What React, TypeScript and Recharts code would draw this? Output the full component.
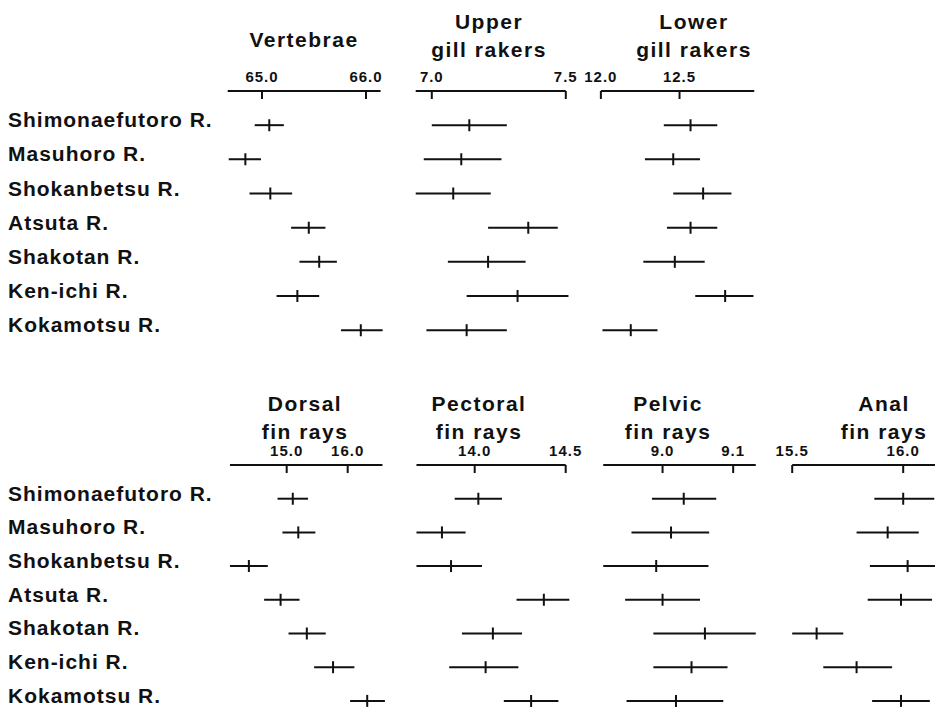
import { ScatterChart, Scatter, XAxis, YAxis, ErrorBar, ReferenceLine } from "recharts";

// each entry: [low, mean, high]
type Triple = [number, number, number];

const rivers = [
  "Shimonaefutoro R.",
  "Masuhoro R.",
  "Shokanbetsu R.",
  "Atsuta R.",
  "Shakotan R.",
  "Ken-ichi R.",
  "Kokamotsu R.",
];

const vertebrae: Triple[] = [
  [64.93, 65.07, 65.21],
  [64.68, 64.84, 64.99],
  [64.88, 65.08, 65.29],
  [65.28, 65.45, 65.61],
  [65.36, 65.55, 65.72],
  [65.14, 65.34, 65.55],
  [65.76, 65.95, 66.16],
];

const upperGillRakers: Triple[] = [
  [7.0, 7.14, 7.28],
  [6.97, 7.11, 7.26],
  [6.94, 7.08, 7.22],
  [7.21, 7.36, 7.47],
  [7.06, 7.21, 7.35],
  [7.13, 7.32, 7.51],
  [6.98, 7.13, 7.28],
];

const lowerGillRakers: Triple[] = [
  [12.4, 12.57, 12.74],
  [12.28, 12.46, 12.63],
  [12.46, 12.65, 12.83],
  [12.42, 12.57, 12.74],
  [12.27, 12.47, 12.66],
  [12.6, 12.79, 12.97],
  [12.01, 12.19, 12.36],
];

const dorsalFinRays: Triple[] = [
  [14.85, 15.1, 15.35],
  [14.93, 15.19, 15.47],
  [14.07, 14.38, 14.69],
  [14.63, 14.9, 15.21],
  [15.03, 15.33, 15.64],
  [15.45, 15.76, 16.11],
  [16.04, 16.32, 16.61],
];

const pectoralFinRays: Triple[] = [
  [13.89, 14.02, 14.15],
  [13.68, 13.82, 13.95],
  [13.68, 13.87, 14.04],
  [14.23, 14.38, 14.52],
  [13.93, 14.1, 14.26],
  [13.86, 14.06, 14.24],
  [14.16, 14.31, 14.46],
];

const pelvicFinRays: Triple[] = [
  [8.985, 9.03, 9.076],
  [8.956, 9.012, 9.066],
  [8.916, 8.991, 9.065],
  [8.947, 9.0, 9.053],
  [8.987, 9.06, 9.132],
  [8.987, 9.041, 9.092],
  [8.949, 9.019, 9.086],
];

const analFinRays: Triple[] = [
  [15.87, 16.0, 16.14],
  [15.79, 15.93, 16.07],
  [15.85, 16.02, 16.15],
  [15.84, 15.99, 16.13],
  [15.5, 15.61, 15.73],
  [15.64, 15.79, 15.95],
  [15.86, 15.99, 16.12],
];

const FONT = '"Liberation Sans", Arial, Helvetica, sans-serif';
const INK = "#111";

interface Panel {
  title: string[];
  titleTop: number;
  titleX: number;
  values: Triple[];
  ticks: number[];
  domain: [number, number];
  axisExtent: [number, number];
  left: number;
  width: number;
}

interface Row {
  axisY: number;
  step: number;
  panels: Panel[];
}

const rows: Row[] = [
  {
    axisY: 91,
    step: 34.17,
    panels: [
      { title: ["Vertebrae"], titleTop: 26, titleX: 304, values: vertebrae, ticks: [65, 66], domain: [64.6, 66.2], axisExtent: [64.67, 66.14], left: 220.4, width: 166.4 },
      { title: ["Upper", "gill rakers"], titleTop: 8, titleX: 489, values: upperGillRakers, ticks: [7.0, 7.5], domain: [6.9, 7.55], axisExtent: [6.94, 7.5], left: 404.9, width: 174.2 },
      { title: ["Lower", "gill rakers"], titleTop: 8, titleX: 694, values: lowerGillRakers, ticks: [12.0, 12.5], domain: [11.88, 13.0], axisExtent: [12.0, 12.975], left: 581.8, width: 176.2 },
    ],
  },
  {
    axisY: 465,
    step: 33.7,
    panels: [
      { title: ["Dorsal", "fin rays"], titleTop: 390, titleX: 305, values: dorsalFinRays, ticks: [15, 16], domain: [14.0, 16.7], axisExtent: [14.07, 16.57], left: 225.7, width: 164.7 },
      { title: ["Pectoral", "fin rays"], titleTop: 390, titleX: 479, values: pectoralFinRays, ticks: [14.0, 14.5], domain: [13.65, 14.6], axisExtent: [13.68, 14.5], left: 411, width: 172.9 },
      { title: ["Pelvic", "fin rays"], titleTop: 390, titleX: 668, values: pelvicFinRays, ticks: [9.0, 9.1], domain: [8.91, 9.135], axisExtent: [8.916, 9.132], left: 599.2, width: 158.9 },
      { title: ["Anal", "fin rays"], titleTop: 390, titleX: 884, values: analFinRays, ticks: [15.5, 16.0], domain: [15.4, 16.2], axisExtent: [15.5, 16.2], left: 769.5, width: 177.6 },
    ],
  },
];

const AXIS_H = 30;
const Y_MAX = 7.5;

const XTick = (props: any) => {
  const { x, y, payload } = props;
  return (
    <g>
      <text x={x} y={y - 9} textAnchor="middle" fontFamily={FONT} fontWeight="bold" fontSize={15} letterSpacing={1} fill={INK}>
        {Number(payload.value).toFixed(1)}
      </text>
      <line x1={x} x2={x} y1={y} y2={y + 8} stroke={INK} strokeWidth={2} />
    </g>
  );
};

const YTick = (props: any) => {
  const { y, payload } = props;
  return (
    <text x={8} y={y + 2} textAnchor="start" fontFamily={FONT} fontWeight="bold" fontSize={21} letterSpacing={1} fill={INK}>
      {rivers[payload.value - 1]}
    </text>
  );
};

const MeanMark = (props: any) => {
  const { cx, cy } = props;
  return <line x1={cx} x2={cx} y1={cy - 6} y2={cy + 6} stroke={INK} strokeWidth={2} />;
};

function PanelChart({ panel, row, withLabels }: { panel: Panel; row: Row; withLabels: boolean }) {
  const plotH = Y_MAX * row.step;
  const yW = withLabels ? panel.left : 0;
  const data = panel.values.map(([lo, m, hi], i) => ({ y: i + 1, x: m, err: [m - lo, hi - m] }));

  return (
    <div style={{ position: "absolute", left: withLabels ? 0 : panel.left, top: row.axisY - AXIS_H }}>
      <ScatterChart width={yW + panel.width} height={AXIS_H + plotH} margin={{ top: 0, right: 0, bottom: 0, left: 0 }}>
        <XAxis
          type="number"
          dataKey="x"
          orientation="top"
          domain={panel.domain}
          allowDataOverflow
          ticks={panel.ticks}
          interval={0}
          axisLine={false}
          tickLine={false}
          tickSize={0}
          tickMargin={0}
          height={AXIS_H}
          tick={XTick}
        />
        <YAxis
          type="number"
          dataKey="y"
          domain={[0, Y_MAX]}
          reversed
          allowDataOverflow
          hide={!withLabels}
          width={yW}
          ticks={rivers.map((_, i) => i + 1)}
          interval={0}
          axisLine={false}
          tickLine={false}
          tick={YTick}
        />
        <ReferenceLine
          segment={[
            { x: panel.axisExtent[0], y: 0 },
            { x: panel.axisExtent[1], y: 0 },
          ]}
          stroke={INK}
          strokeWidth={2}
          ifOverflow="visible"
        />
        <Scatter data={data} isAnimationActive={false} shape={MeanMark}>
          <ErrorBar dataKey="err" direction="x" width={0} stroke={INK} strokeWidth={2} isAnimationActive={false} />
        </Scatter>
      </ScatterChart>
    </div>
  );
}

export default function App() {
  return (
    <div
      style={{
        position: "absolute",
        left: 0,
        top: 0,
        width: 935,
        height: 711,
        background: "#fff",
        overflow: "hidden",
        fontFamily: FONT,
        color: INK,
      }}
    >
      {rows.map((row, ri) =>
        row.panels.map((panel, pi) => (
          <div key={`t-${ri}-${pi}`}>
            <div
              style={{
                position: "absolute",
                left: panel.titleX - 120,
                width: 240,
                top: panel.titleTop,
                textAlign: "center",
                fontSize: 21,
                fontWeight: "bold",
                letterSpacing: 1.5,
                lineHeight: "28px",
              }}
            >
              {panel.title.map((line) => (
                <div key={line}>{line}</div>
              ))}
            </div>
            <PanelChart panel={panel} row={row} withLabels={pi === 0} />
          </div>
        ))
      )}
    </div>
  );
}
